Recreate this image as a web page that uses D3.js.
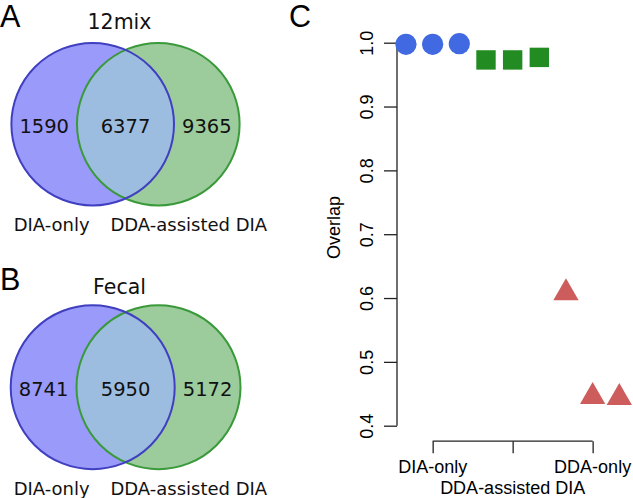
<!DOCTYPE html>
<html>
<head>
<meta charset="utf-8">
<script src="https://cdn.jsdelivr.net/npm/d3@7"></script>
<style>
  html, body { margin: 0; padding: 0; background: #fff; }
  svg { display: block; }
</style>
</head>
<body>
<svg id="chart" width="633" height="498"></svg>
<script>
// ---------- data ----------
const vennTitles = ["12mix", "Fecal"];
const vennSetLabels = ["DIA-only", "DDA-assisted DIA"];
const vennA = [1590, 6377, 9365];   // left-only, overlap, right-only
const vennB = [8741, 5950, 5172];
const panelLetters = ["A", "B", "C"];

const groups = ["DIA-only", "DDA-assisted DIA", "DDA-only"];
const overlapDIA  = [0.9975, 0.9975, 0.9985];
const overlapAsst = [0.973, 0.973, 0.977];
const overlapDDA  = [0.608, 0.4455, 0.444];
const yTicks = [0.4, 0.5, 0.6, 0.7, 0.8, 0.9, 1.0];
const yLabel = "Overlap";

// ---------- setup ----------
const svg = d3.select("#chart");
const vennFont = "'DejaVu Sans', Verdana, sans-serif";
const rFont = "'Liberation Sans', Arial, Helvetica, sans-serif";

const colLeftFill = "#9a9afa", colRightFill = "#9ccc9c", colOverlap = "#9dbde0";
const colLeftStroke = "#3f3fc0", colRightStroke = "#3a993a";

function drawVenn(g, idx, counts, title, geom) {
  const { cy, r, cxL, cxR, titleY, numY, labY } = geom;
  const id = "clipL" + idx;
  g.append("clipPath").attr("id", id)
    .append("circle").attr("cx", cxL).attr("cy", cy).attr("r", r);

  g.append("circle").attr("cx", cxL).attr("cy", cy).attr("r", r).attr("fill", colLeftFill);
  g.append("circle").attr("cx", cxR).attr("cy", cy).attr("r", r).attr("fill", colRightFill);
  g.append("circle").attr("cx", cxR).attr("cy", cy).attr("r", r)
    .attr("fill", colOverlap).attr("clip-path", `url(#${id})`);
  g.append("circle").attr("cx", cxR).attr("cy", cy).attr("r", r)
    .attr("fill", "none").attr("stroke", colRightStroke).attr("stroke-width", 2);
  g.append("circle").attr("cx", cxL).attr("cy", cy).attr("r", r)
    .attr("fill", "none").attr("stroke", colLeftStroke).attr("stroke-width", 2);

  const leftEdgeL = cxL - r, rightEdgeL = cxL + r;
  const leftEdgeR = cxR - r, rightEdgeR = cxR + r;
  const numX = [(leftEdgeL + leftEdgeR) / 2, (leftEdgeR + rightEdgeL) / 2, (rightEdgeL + rightEdgeR) / 2];

  g.selectAll("text.num").data(counts).enter().append("text")
    .attr("class", "num")
    .attr("x", (d, i) => numX[i]).attr("y", numY)
    .attr("text-anchor", "middle")
    .attr("font-family", vennFont).attr("font-size", 19.5)
    .attr("fill", "#111")
    .text(d => d);

  g.append("text").attr("x", 119.5).attr("y", titleY)
    .attr("text-anchor", "middle")
    .attr("font-family", vennFont).attr("font-size", 20.5).attr("fill", "#111")
    .text(title);

  const labX = [51.7, 188.8];
  g.selectAll("text.lab").data(vennSetLabels).enter().append("text")
    .attr("class", "lab")
    .attr("x", (d, i) => labX[i]).attr("y", labY)
    .attr("text-anchor", "middle")
    .attr("font-family", vennFont).attr("font-size", 18).attr("fill", "#111")
    .text(d => d);
}

drawVenn(svg.append("g"), 0, vennA, vennTitles[0],
  { cy: 124.2, r: 81.3, cxL: 92.7, cxR: 158.3, titleY: 29.3, numY: 132.7, labY: 230.7 });
drawVenn(svg.append("g"), 1, vennB, vennTitles[1],
  { cy: 387.2, r: 82, cxL: 92.7, cxR: 158.5, titleY: 294, numY: 395.7, labY: 495 });

// panel letters
const letterPos = [[0, 26.7], [0, 290], [289, 27]];
svg.selectAll("text.letter").data(panelLetters).enter().append("text")
  .attr("class", "letter")
  .attr("x", (d, i) => letterPos[i][0]).attr("y", (d, i) => letterPos[i][1])
  .attr("font-family", rFont).attr("font-size", 30.5).attr("fill", "#000")
  .text(d => d);

// ---------- panel C ----------
const x = d3.scaleLinear().domain([1, 9]).range([406, 619.3]);
const y = d3.scaleLinear().domain([0.4, 1.0]).range([425.7, 42.7]);

const gC = svg.append("g");

// y axis
const yAxis = d3.axisLeft(y).tickValues(yTicks).tickSize(13).tickPadding(0)
  .tickFormat(d3.format(".1f"));
const gy = gC.append("g").attr("transform", "translate(397,0)").call(yAxis);
gy.select(".domain").attr("stroke", "#222").attr("stroke-width", 1.3)
  .attr("d", `M0,${y(0.4)}V${y(1.0)}`);
gy.selectAll(".tick line").attr("stroke", "#222").attr("stroke-width", 1.3);
gy.selectAll(".tick text").remove();
gy.selectAll(".tick").append("text")
  .attr("transform", "translate(-23.8,0) rotate(-90)")
  .attr("text-anchor", "middle")
  .attr("font-family", rFont).attr("font-size", 18).attr("fill", "#000")
  .text(d => d3.format(".1f")(d));

// x axis (bracket)
const xTickPos = [2, 5, 8];
const xAxis = d3.axisBottom(x).tickValues(xTickPos).tickSize(12).tickFormat("");
const gx = gC.append("g").attr("transform", "translate(0,441.2)").call(xAxis);
gx.select(".domain").attr("stroke", "#222").attr("stroke-width", 1.3)
  .attr("d", `M${x(2)},0H${x(8)}`);
gx.selectAll(".tick line").attr("stroke", "#222").attr("stroke-width", 1.3);
const xLabY = [473, 494, 473];
gC.selectAll("text.xlab").data(groups).enter().append("text")
  .attr("class", "xlab")
  .attr("x", (d, i) => x(xTickPos[i]))
  .attr("y", (d, i) => xLabY[i])
  .attr("text-anchor", "middle")
  .attr("font-family", rFont).attr("font-size", 18).attr("fill", "#000")
  .text(d => d);

// y label
gC.append("text")
  .attr("transform", "translate(339.5,227.5) rotate(-90)")
  .attr("text-anchor", "middle")
  .attr("font-family", rFont).attr("font-size", 18).attr("fill", "#000")
  .text(yLabel);

// points
gC.selectAll("circle.pt").data(overlapDIA).enter().append("circle")
  .attr("class", "pt")
  .attr("cx", (d, i) => x(1 + i)).attr("cy", d => y(d)).attr("r", 10.6)
  .attr("fill", "#4169e1");

const sq = 19.4;
gC.selectAll("rect.pt").data(overlapAsst).enter().append("rect")
  .attr("class", "pt")
  .attr("x", (d, i) => x(4 + i) - sq / 2).attr("y", d => y(d) - sq / 2)
  .attr("width", sq).attr("height", sq)
  .attr("fill", "#228b22");

const tr = 14.6, txc = tr * Math.sqrt(3) / 2;
gC.selectAll("path.pt").data(overlapDDA).enter().append("path")
  .attr("class", "pt")
  .attr("d", (d, i) => {
    const cx = x(7 + i), cy = y(d);
    return `M${cx},${cy - tr}L${cx + txc},${cy + tr / 2}L${cx - txc},${cy + tr / 2}Z`;
  })
  .attr("fill", "#cd5c5c");
</script>
</body>
</html>
